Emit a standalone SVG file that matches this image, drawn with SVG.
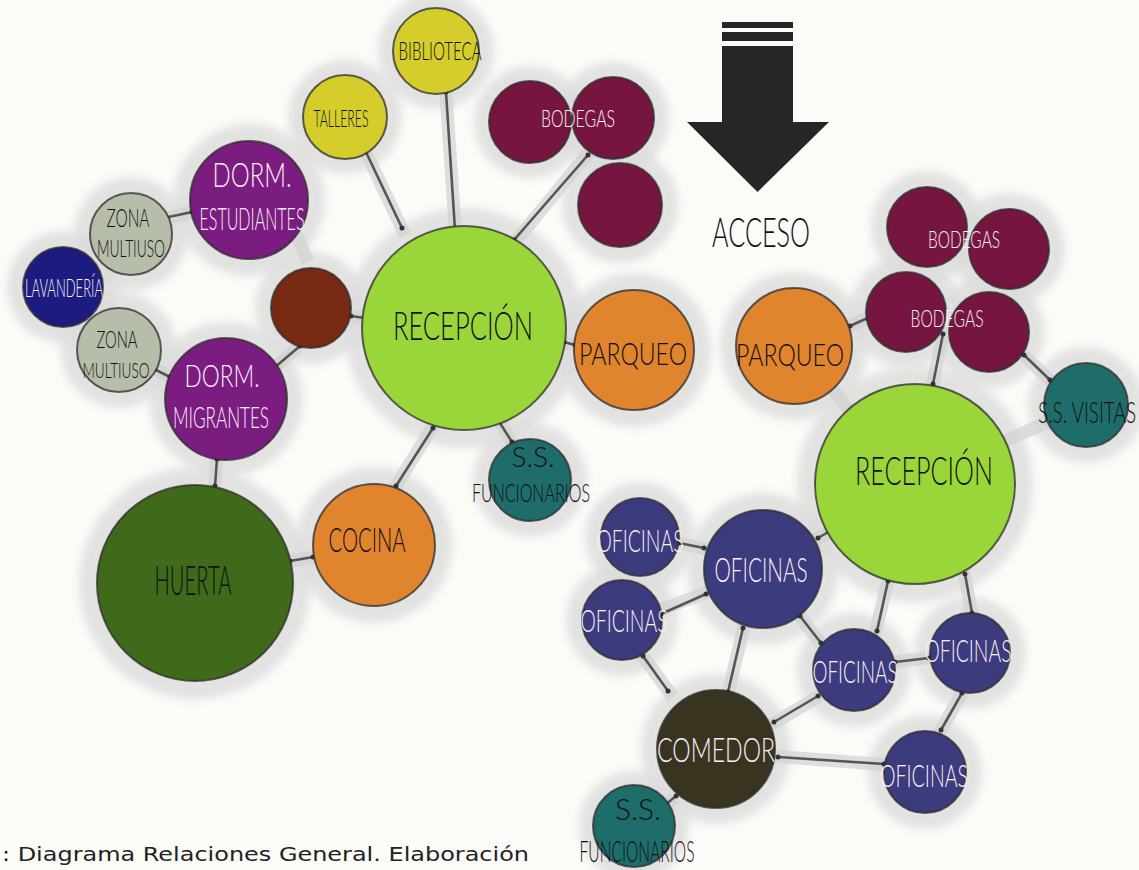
<svg xmlns="http://www.w3.org/2000/svg" width="1139" height="870" viewBox="0 0 1139 870">
<defs>
<filter id="blur" x="-30%" y="-30%" width="160%" height="160%"><feGaussianBlur stdDeviation="4"/></filter>
<marker id="tick" markerWidth="6" markerHeight="6" refX="3" refY="3" markerUnits="userSpaceOnUse"><circle cx="3" cy="3" r="2.5" fill="#333"/></marker>
<style>
.bg{fill:#fbfbf8}
.halo{fill:#dcdcdc;opacity:.8;filter:url(#blur)}
.n{stroke:#2c2c2c;stroke-width:2;stroke-opacity:.75}
.lh{stroke:#d2d2d2;stroke-width:13;opacity:.7;stroke-linecap:butt;fill:none}
.lc{stroke:#555;stroke-width:2.6;fill:none;marker-start:url(#tick);marker-end:url(#tick)}
.t{font-family:Lato,"Liberation Sans",sans-serif;font-weight:300;text-anchor:middle}
.dk{fill:#111}
.lt{fill:#fbeef6}
.lime{fill:#9ad53a}.yel{fill:#d4cd2c}.mar{fill:#761640}.pur{fill:#7a1c80}.sage{fill:#b6bea9}
.navy{fill:#1c1c80}.brn{fill:#772913}.org{fill:#e0842d}.teal{fill:#1f6d6b}.grn{fill:#3f6a1a}
.ofi{fill:#3b3b7d}.com{fill:#39341f}
</style>
</defs>
<rect class="bg" width="1139" height="870"/>
<g id="halos">
<circle class="halo" cx="436" cy="51" r="58"/>
<circle class="halo" cx="345" cy="117" r="57"/>
<circle class="halo" cx="530" cy="122" r="56"/>
<circle class="halo" cx="613" cy="118" r="56"/>
<circle class="halo" cx="620" cy="205" r="58"/>
<circle class="halo" cx="249" cy="200" r="76"/>
<circle class="halo" cx="131" cy="234" r="57"/>
<circle class="halo" cx="63" cy="287" r="56"/>
<circle class="halo" cx="119" cy="350" r="58"/>
<circle class="halo" cx="226" cy="399" r="77"/>
<circle class="halo" cx="311" cy="308" r="56"/>
<circle class="halo" cx="464" cy="328" r="120"/>
<circle class="halo" cx="634" cy="350" r="77"/>
<circle class="halo" cx="530" cy="480" r="57"/>
<circle class="halo" cx="374" cy="545" r="78"/>
<circle class="halo" cx="195" cy="583" r="116"/>
<circle class="halo" cx="927" cy="227" r="56"/>
<circle class="halo" cx="1009" cy="249" r="56"/>
<circle class="halo" cx="906" cy="312" r="56"/>
<circle class="halo" cx="989" cy="332" r="56"/>
<circle class="halo" cx="794" cy="346" r="74"/>
<circle class="halo" cx="1086" cy="405" r="58"/>
<circle class="halo" cx="915" cy="484" r="118"/>
<circle class="halo" cx="640" cy="537" r="55"/>
<circle class="halo" cx="622" cy="620" r="56"/>
<circle class="halo" cx="763" cy="569" r="76"/>
<circle class="halo" cx="854" cy="670" r="57"/>
<circle class="halo" cx="970" cy="653" r="56"/>
<circle class="halo" cx="925" cy="772" r="57"/>
<circle class="halo" cx="716" cy="749" r="75"/>
<circle class="halo" cx="634" cy="826" r="55"/>
</g>
<g id="connectors">
<line class="lh" x1="360" y1="140" x2="405" y2="235"/><line class="lc" x1="365" y1="150" x2="402" y2="228"/>
<line class="lh" x1="445" y1="80" x2="456" y2="240"/><line class="lc" x1="446" y1="92" x2="455" y2="230"/>
<line class="lh" x1="595" y1="145" x2="510" y2="248"/><line class="lc" x1="588" y1="155" x2="514" y2="240"/>
<line class="lh" x1="160" y1="220" x2="200" y2="210"/><line class="lc" x1="164" y1="218" x2="192" y2="212"/>
<line class="lh" x1="150" y1="366" x2="175" y2="380"/><line class="lc" x1="154" y1="369" x2="170" y2="377"/>
<line class="lh" x1="268" y1="374" x2="305" y2="340"/><line class="lc" x1="274" y1="368" x2="300" y2="346"/>
<line class="lh" x1="345" y1="316" x2="372" y2="318"/><line class="lc" x1="351" y1="316" x2="365" y2="318"/>
<line class="lh" x1="217" y1="450" x2="214" y2="495"/><line class="lc" x1="217" y1="459" x2="215" y2="486"/>
<line class="lh" x1="285" y1="562" x2="320" y2="556"/><line class="lc" x1="290" y1="561" x2="313" y2="557"/>
<line class="lh" x1="437" y1="420" x2="392" y2="492"/><line class="lc" x1="433" y1="428" x2="396" y2="486"/>
<line class="lh" x1="558" y1="341" x2="580" y2="346"/><line class="lc" x1="564" y1="342" x2="575" y2="345"/>
<line class="lh" x1="494" y1="412" x2="515" y2="448"/><line class="lc" x1="498" y1="420" x2="512" y2="442"/>
<line class="lh" x1="296" y1="234" x2="308" y2="262"/>
<line class="lh" x1="845" y1="328" x2="880" y2="313"/><line class="lc" x1="850" y1="326" x2="872" y2="316"/>
<line class="lh" x1="945" y1="326" x2="931" y2="392"/><line class="lc" x1="943" y1="334" x2="933" y2="384"/>
<line class="lh" x1="1018" y1="350" x2="1056" y2="386"/><line class="lc" x1="1024" y1="355" x2="1050" y2="380"/>
<line class="lh" x1="828" y1="383" x2="853" y2="416"/>
<line class="lh" x1="1003" y1="442" x2="1050" y2="421"/>
<line class="lh" x1="812" y1="542" x2="835" y2="528"/><line class="lc" x1="818" y1="538" x2="830" y2="531"/>
<line class="lh" x1="890" y1="572" x2="874" y2="638"/><line class="lc" x1="888" y1="581" x2="877" y2="631"/>
<line class="lh" x1="963" y1="568" x2="973" y2="620"/><line class="lc" x1="965" y1="574" x2="972" y2="613"/>
<line class="lh" x1="795" y1="610" x2="826" y2="650"/><line class="lc" x1="800" y1="616" x2="821" y2="643"/>
<line class="lh" x1="888" y1="663" x2="935" y2="657"/><line class="lc" x1="895" y1="662" x2="929" y2="658"/>
<line class="lh" x1="768" y1="727" x2="827" y2="691"/><line class="lc" x1="774" y1="722" x2="818" y2="696"/>
<line class="lh" x1="966" y1="686" x2="937" y2="737"/><line class="lc" x1="962" y1="693" x2="941" y2="730"/>
<line class="lh" x1="772" y1="756" x2="890" y2="765"/><line class="lc" x1="778" y1="757" x2="884" y2="764"/>
<line class="lh" x1="746" y1="618" x2="726" y2="702"/><line class="lc" x1="743" y1="628" x2="728" y2="692"/>
<line class="lh" x1="638" y1="650" x2="673" y2="697"/><line class="lc" x1="643" y1="656" x2="668" y2="691"/>
<line class="lh" x1="655" y1="612" x2="712" y2="590"/><line class="lc" x1="661" y1="614" x2="706" y2="594"/>
<line class="lh" x1="675" y1="542" x2="710" y2="550"/><line class="lc" x1="679" y1="543" x2="704" y2="548"/>
<line class="lh" x1="674" y1="798" x2="660" y2="810"/><line class="lc" x1="676" y1="796" x2="665" y2="805"/>
</g>
<g id="arrow">
<rect x="722" y="22" width="71" height="6" fill="#262626"/>
<rect x="722" y="32" width="71" height="9" fill="#262626"/>
<path d="M722,46 H793 V122 H829 L757.5,192 L687,122 H722 Z" fill="#262626"/>
</g>
<text class="t dk" x="761" y="247" font-size="42" textLength="98" lengthAdjust="spacingAndGlyphs">ACCESO</text>
<g id="n-biblioteca"><circle class="n yel" cx="436" cy="51" r="43"/><text class="t dk" x="440" y="60" font-size="25" textLength="83" lengthAdjust="spacingAndGlyphs">BIBLIOTECA</text></g>
<g id="n-talleres"><circle class="n yel" cx="345" cy="117" r="42"/><text class="t dk" x="341" y="127" font-size="24" textLength="55" lengthAdjust="spacingAndGlyphs">TALLERES</text></g>
<g id="n-bodegas1"><circle class="n mar" cx="530" cy="122" r="41"/><circle class="n mar" cx="613" cy="118" r="41"/><circle class="n mar" cx="620" cy="205" r="42"/><text class="t lt" x="578" y="127" font-size="24" textLength="74" lengthAdjust="spacingAndGlyphs">BODEGAS</text></g>
<g id="n-dorm-est"><circle class="n pur" cx="249" cy="200" r="59"/><text class="t lt" x="252" y="187" font-size="33" textLength="79" lengthAdjust="spacingAndGlyphs">DORM.</text><text class="t lt" x="252" y="230" font-size="32" textLength="105" lengthAdjust="spacingAndGlyphs">ESTUDIANTES</text></g>
<g id="n-zona1"><circle class="n sage" cx="131" cy="234" r="41"/><text class="t dk" x="128" y="227" font-size="26" textLength="43" lengthAdjust="spacingAndGlyphs">ZONA</text><text class="t dk" x="131" y="257" font-size="24" textLength="68" lengthAdjust="spacingAndGlyphs">MULTIUSO</text></g>
<g id="n-lavanderia"><circle class="n navy" cx="63" cy="287" r="40"/><text class="t lt" x="64" y="297" font-size="26" textLength="78" lengthAdjust="spacingAndGlyphs">LAVANDERÍA</text></g>
<g id="n-zona2"><circle class="n sage" cx="119" cy="350" r="42"/><text class="t dk" x="117" y="348" font-size="23" textLength="41" lengthAdjust="spacingAndGlyphs">ZONA</text><text class="t dk" x="116" y="378" font-size="21" textLength="67" lengthAdjust="spacingAndGlyphs">MULTIUSO</text></g>
<g id="n-dorm-mig"><circle class="n pur" cx="226" cy="399" r="61"/><text class="t lt" x="222" y="387" font-size="31" textLength="75" lengthAdjust="spacingAndGlyphs">DORM.</text><text class="t lt" x="221" y="428" font-size="30" textLength="96" lengthAdjust="spacingAndGlyphs">MIGRANTES</text></g>
<g id="n-brown"><circle class="n brn" cx="311" cy="308" r="40"/></g>
<g id="n-recepcion1"><circle class="n lime" cx="464" cy="328" r="102"/><text class="t dk" x="463" y="340" font-size="39" textLength="140" lengthAdjust="spacingAndGlyphs">RECEPCIÓN</text></g>
<g id="n-parqueo1"><circle class="n org" cx="634" cy="350" r="60"/><text class="t dk" x="633" y="365" font-size="31" textLength="108" lengthAdjust="spacingAndGlyphs">PARQUEO</text></g>
<g id="n-ssf1"><circle class="n teal" cx="530" cy="480" r="41"/><text class="t dk" x="533" y="467" font-size="28">S.S.</text><text class="t dk" x="531" y="502" font-size="26" textLength="118" lengthAdjust="spacingAndGlyphs">FUNCIONARIOS</text></g>
<g id="n-cocina"><circle class="n org" cx="374" cy="545" r="61"/><text class="t dk" x="367" y="552" font-size="33" textLength="77" lengthAdjust="spacingAndGlyphs">COCINA</text></g>
<g id="n-huerta"><circle class="n grn" cx="195" cy="583" r="98"/><text class="t dk" x="193" y="595" font-size="42" textLength="77" lengthAdjust="spacingAndGlyphs">HUERTA</text></g>
<g id="n-bodegas2"><circle class="n mar" cx="927" cy="227" r="40"/><circle class="n mar" cx="1009" cy="249" r="40"/><text class="t lt" x="964" y="248" font-size="23" textLength="72" lengthAdjust="spacingAndGlyphs">BODEGAS</text></g>
<g id="n-bodegas3"><circle class="n mar" cx="906" cy="312" r="40"/><circle class="n mar" cx="989" cy="332" r="40"/><text class="t lt" x="947" y="327" font-size="24" textLength="73" lengthAdjust="spacingAndGlyphs">BODÉGAS</text></g>
<g id="n-parqueo2"><circle class="n org" cx="794" cy="346" r="58"/><text class="t dk" x="790" y="366" font-size="31" textLength="108" lengthAdjust="spacingAndGlyphs">PARQUEO</text></g>
<g id="n-ssvisitas"><circle class="n teal" cx="1086" cy="405" r="42"/><text class="t dk" transform="translate(1087,423) scale(0.63,1)" x="0" y="0" font-size="30">S.S. VISITAS</text></g>
<g id="n-recepcion2"><circle class="n lime" cx="915" cy="484" r="100"/><text class="t dk" x="924" y="485" font-size="39" textLength="138" lengthAdjust="spacingAndGlyphs">RECEPCIÓN</text></g>
<g id="n-of1"><circle class="n ofi" cx="640" cy="537" r="39"/><text class="t lt" x="640" y="552" font-size="32" textLength="87" lengthAdjust="spacingAndGlyphs">OFICINAS</text></g>
<g id="n-of2"><circle class="n ofi" cx="622" cy="620" r="40"/><text class="t lt" x="624" y="632" font-size="32" textLength="87" lengthAdjust="spacingAndGlyphs">OFICINAS</text></g>
<g id="n-of3"><circle class="n ofi" cx="763" cy="569" r="59"/><text class="t lt" x="761" y="582" font-size="33" textLength="93" lengthAdjust="spacingAndGlyphs">OFICINAS</text></g>
<g id="n-of4"><circle class="n ofi" cx="854" cy="670" r="41"/><text class="t lt" x="855" y="683" font-size="31" textLength="85" lengthAdjust="spacingAndGlyphs">OFICINAS</text></g>
<g id="n-of5"><circle class="n ofi" cx="970" cy="653" r="40"/><text class="t lt" x="968" y="662" font-size="31" textLength="87" lengthAdjust="spacingAndGlyphs">OFICINAS</text></g>
<g id="n-of6"><circle class="n ofi" cx="925" cy="772" r="41"/><text class="t lt" x="924" y="787" font-size="31" textLength="88" lengthAdjust="spacingAndGlyphs">OFICINAS</text></g>
<g id="n-comedor"><circle class="n com" cx="716" cy="749" r="59"/><text class="t lt" x="716" y="762" font-size="33" textLength="118" lengthAdjust="spacingAndGlyphs">COMEDOR</text></g>
<g id="n-ssf2"><circle class="n teal" cx="634" cy="826" r="41"/><text class="t dk" x="638" y="820" font-size="30">S.S.</text><text class="t dk" x="637" y="862" font-size="30" textLength="115" lengthAdjust="spacingAndGlyphs">FUNCIONARIOS</text></g>
<text x="2" y="861" font-family="'DejaVu Sans',Verdana,sans-serif" font-size="20" fill="#222" textLength="527" lengthAdjust="spacingAndGlyphs">: Diagrama Relaciones General. Elaboración</text>
</svg>
